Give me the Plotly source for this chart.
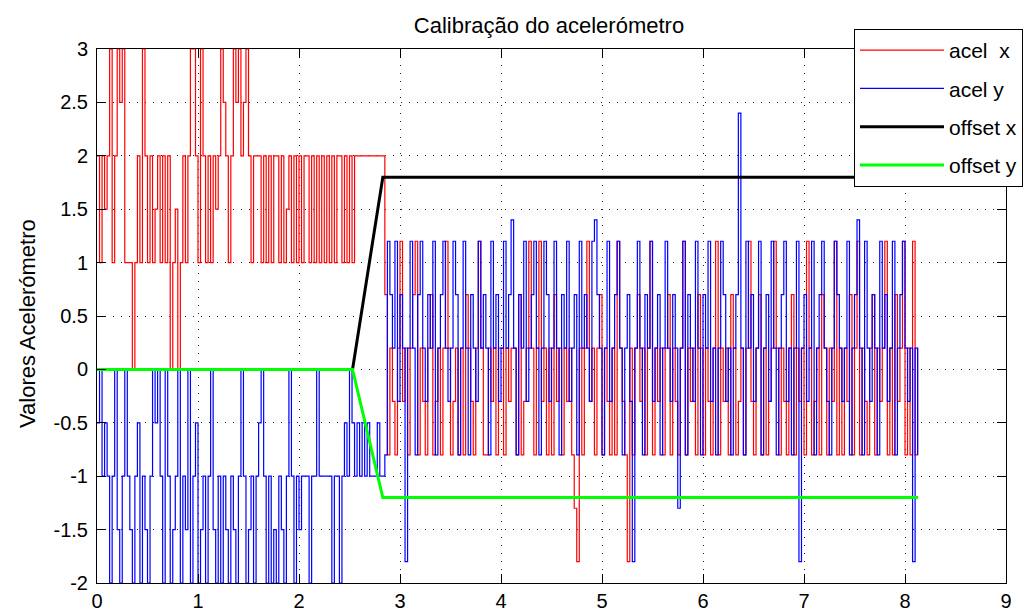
import plotly.graph_objects as go

# ---------------- data ----------------
t_start = 0.0
t_step = 0.025

acel_x_pre = [
    2, 1, 2, 1.5, 2, 3, 1, 2, 3, 2.5, 3,
    1, 1, 1,
    0,
    1, 2, 1,
    3,
    2, 1, 2, 1, 1.5, 2, 1, 2, 1, 2,
    0,
    1, 1.5,
    0,
    1, 2, 1, 2,
    3, 3,
    2, 1,
    3,
    2, 1, 2, 1, 2, 1.5, 2,
    3,
    2.5, 2, 1, 2,
    3, 2.5, 3, 2, 2.5, 3, 2,
    1, 2, 2, 2,
    1, 2, 1, 2, 1, 2, 2, 1, 2, 1, 1.5, 2, 1, 2, 1, 2, 1, 2, 2, 1,
    2, 1, 2, 1, 2, 1, 2, 1, 2, 1, 2, 2, 1, 2, 1, 2, 1,
    2, 2, 2, 2, 2, 2, 2, 2, 2, 2, 2, 2,
]

acel_x_post = [
    0.7, -0.8, 0.2, -0.3, -0.8, 0.2, 1.2, -0.3, 0.2, -0.8,
    0.2, 0.7, 1.2, -0.8, 0.2, -0.3, -0.8, 0.2, 0.7, -0.8,
    -0.3, 0.2, -0.8, 0.2, 1.2, 0.2, -0.8, -0.3, 0.2, -0.8,
    0.2, -0.8, 0.7, 0.2, -0.3, -0.8, 0.2, 1.2, 0.2, -0.8,
    -0.8, 0.2, -0.3, 0.2, -0.8, 0.2, 0.2, -0.8, 0.2, -0.3,
    0.2, 0.2, -0.8, 0.7, -0.8, -0.3, 0.2, 1.2, 0.2, -0.8,
    0.2, 1.2, -0.3, 0.2, -0.8, 0.2, -0.8, 0.7, -0.3, 0.2,
    -0.8, 0.2, -0.3, 0.2, -0.8, -1.3, -1.8, 0.2, -0.8, 0.2,
    1.2, -0.3, 0.2, -0.8, 0.2, 0.7, -0.8, 0.2, -0.3, -0.8,
    0.2, -0.8, 1.2, 0.2, -0.3, -0.8, -1.8, 0.2, -0.8, 0.2,
    0.7, -0.3, 0.2, -0.8, 0.2, 1.2, -0.8, 0.2, -0.3, 0.2,
    -0.8, 0.2, 0.7, -0.8, 0.2, -0.3, -0.8, 0.2, 1.2, -0.8,
    0.2, -0.3, 0.2, -0.8, 0.7, 0.2, -0.8, 0.2, -0.3, -0.8,
    0.2, 1.2, -0.8, 0.2, -0.3, 0.2, -0.8, 0.7, 0.2, -0.8,
    -0.3, 0.2, -0.8, 0.2, 1.2, -0.3, -0.8, 0.2, 0.7, -0.8,
    0.2, -0.8, -0.3, 0.2, 1.2, 0.2, -0.8, 0.2, -0.3, -0.8,
    0.2, 0.7, -0.8, 0.2, -0.3, 0.2, -0.8, 1.2, 0.2, -0.8,
    -0.3, 0.2, -0.8, 0.7, 0.2, -0.8, 0.2, -0.3, 1.2, -0.8,
    0.2, -0.8, 0.2, -0.3, 0.7, -0.8, 0.2, 1.2, -0.8, 0.2,
    -0.3, -0.8, 0.2, 0.7, -0.8, 0.2, -0.3, 0.2, 1.2, -0.8,
    0.2, -0.8, 0.7, -0.3, 0.2, 1.2, -0.8, 0.2, -0.8, 1.2,
    -0.8, 0.2,
]

acel_y_pre = [
    -0.5, 0, -1, -0.5, -1, -2, -1, 0, -1.5, -2, -1,
    0, -1, -1.5, -2, -1, -0.5, -2, -1, -1.5, -2,
    -1, 0, -0.5, 0, -1, -2, 0, -1, -2, -1.5,
    -1, 0, -2, -1, -1.5, 0, -2, -1, -0.5, -2,
    -1.5, -1, -2, -1, 0, -1.5, -2, -1, -2, -1,
    -1.5, -2, -1, -1.5, -2, -1, 0, -1, -2, -1.5,
    -1, -2, -1, -0.5, 0, -1, -2, -1, -2, -1.5,
    -2, -1, -1.5, -2, -1, 0, -1, -2, -1, -1.5,
    -1, -1, -1, -2, -1, -1, 0, -1, -1, -1,
    -1, -1, -2, -1, -1, -2, -1, -0.5, -1, 0, -0.5,
    -1, -0.5, -1, -0.5, -1, -0.5, -1, -1, -1, -0.5, -1, -1,
]

acel_y_post = [
    -0.8, 1.2, 0.7, 0.2, 1.2, -0.3, 0.7, 0.2, -1.8, 0.2,
    1.2, 0.2, -0.8, 0.7, 1.2, 0.2, -0.3, 0.7, 0.2, 1.2,
    -0.8, 0.2, 0.7, 1.2, 0.2, -0.3, 0.2, 1.2, 0.7, -0.8,
    0.2, 1.2, 0.2, -0.8, 0.7, 0.2, -0.3, 1.2, 0.2, 0.7,
    0.2, -0.8, 1.2, 0.2, 0.7, -0.3, 0.2, 1.2, 0.2, 0.7,
    1.4, 0.2, -0.8, 0.7, 0.2, 1.2, -0.3, 0.2, 0.7, 1.2,
    0.2, -0.8, 0.2, 1.2, 0.7, -0.3, 0.2, 1.2, 0.2, -0.8,
    0.7, 0.2, 1.2, -0.3, 0.2, 0.7, -0.8, 1.2, 0.2, 0.7,
    0.2, -0.3, 1.2, 1.4, 0.7, 0.2, -0.8, 0.2, 1.2, -0.3,
    0.2, 0.7, 1.2, 0.2, -0.8, 0.2, 0.7, -0.3, -1.8, 0.2,
    1.2, 0.2, -0.8, 0.7, 0.2, 1.2, -0.3, 0.2, 0.7, -0.8,
    0.2, 1.2, 0.2, -0.3, 0.7, 0.2, -1.3, 0.2, 1.2, -0.8,
    0.7, 0.2, -0.3, 1.2, 0.2, -0.8, 0.7, 0.2, 1.2, -0.3,
    0.2, -0.8, 0.2, 1.2, 0.7, -0.3, 0.2, -0.8, 0.2, 0.7,
    2.4, 0.2, -0.8, 1.2, 0.2, 0.7, -0.3, 0.2, 1.2, -0.8,
    0.2, 0.7, -0.3, 1.2, 0.2, -0.8, 0.2, 0.7, 1.2, -0.3,
    0.2, -0.8, 0.2, 1.2, -1.8, 0.2, 0.7, -0.3, 0.2, 1.2,
    -0.8, 0.2, 0.7, 1.2, 0.2, -0.3, -0.8, 0.2, 1.2, 0.7,
    0.2, -0.3, 0.2, 1.2, -0.8, 0.2, 0.7, 1.4, 0.2, -0.8,
    1.2, 0.2, -0.3, 0.7, 0.2, -0.8, 1.2, 0.2, 0.7, -0.3,
    0.2, 1.2, -0.8, 0.2, 0.7, 1.2, 0.2, -0.3, 0.2, -1.8,
    0.2, -0.8,
]

offset_t = [0, 2.53, 2.83, 8.13]
offset_x = [0, 0, 1.8, 1.8]
offset_y = [0, 0, -1.2, -1.2]

x_tickvals = [0, 1, 2, 3, 4, 5, 6, 7, 8, 9]
x_ticktext = ["0", "1", "2", "3", "4", "5", "6", "7", "8", "9"]
y_tickvals = [-2, -1.5, -1, -0.5, 0, 0.5, 1, 1.5, 2, 2.5, 3]
y_ticktext = ["-2", "-1.5", "-1", "-0.5", "0", "0.5", "1", "1.5", "2", "2.5", "3"]

title_text = "Calibração do acelerómetro"
ylabel_text = "Valores Acelerómetro"
names = ["acel\u00a0 x", "acel y", "offset x", "offset y"]

# ---------------- figure ----------------
W, H = 1025, 614
ML, MR, MT, MB = 97, 19, 49, 31
PW, PH = W - ML - MR, H - MT - MB

fig = go.Figure()
fig.add_trace(go.Scatter(
    y=acel_x_pre + acel_x_post, x0=t_start, dx=t_step, mode="lines",
    line=dict(color="#ff0000", width=1.2, shape="hv"), name=names[0], legendgroup="a"))
fig.add_trace(go.Scatter(
    y=acel_y_pre + acel_y_post, x0=t_start, dx=t_step, mode="lines",
    line=dict(color="#0000ff", width=1.2, shape="hv"), name=names[1], legendgroup="b"))
fig.add_trace(go.Scatter(
    x=offset_t, y=offset_x, mode="lines",
    line=dict(color="#000000", width=3), name=names[2], legendgroup="c"))
fig.add_trace(go.Scatter(
    x=offset_t, y=offset_y, mode="lines",
    line=dict(color="#00ff00", width=3), name=names[3], legendgroup="d"))

tick_font = dict(family="Liberation Sans Narrow, Liberation Sans, Arial", size=20, color="#000")
grid_dash = "1px,7px"

fig.update_layout(
    width=W, height=H, autosize=False,
    margin=dict(l=ML, r=MR, t=MT, b=MB, autoexpand=False),
    paper_bgcolor="white", plot_bgcolor="white",
    font=dict(family="Liberation Sans, Arial", size=20, color="#000"),
    title=dict(text=title_text, x=549 / W, xanchor="center",
               y=1 - 25 / H, yanchor="middle", yref="container",
               font=dict(family="Liberation Sans, Arial", size=22, color="#000")),
    showlegend=True,
    legend=dict(x=(854 - ML) / PW, y=(H - MB - 29) / PH, xanchor="left", yanchor="top",
                bgcolor="white", bordercolor="black", borderwidth=1,
                font=dict(family="Liberation Sans, Arial", size=21, color="#000"),
                traceorder="grouped", tracegroupgap=8, itemwidth=84),
    xaxis=dict(range=[0, 9], tickvals=x_tickvals, ticktext=x_ticktext,
               showgrid=True, gridcolor="#222", gridwidth=1, griddash=grid_dash,
               zeroline=False, showline=True, linecolor="black", linewidth=1,
               mirror="ticks", ticks="inside", ticklen=9, tickcolor="black",
               tickfont=tick_font, ticklabelstandoff=0),
    yaxis=dict(range=[-2, 3], tickvals=y_tickvals, ticktext=y_ticktext,
               showgrid=True, gridcolor="#222", gridwidth=1, griddash=grid_dash,
               zeroline=False, showline=True, linecolor="black", linewidth=1,
               mirror="ticks", ticks="inside", ticklen=9, tickcolor="black",
               tickfont=tick_font, ticklabelstandoff=4),
    annotations=[dict(text=ylabel_text, textangle=-90, xref="paper", yref="paper",
                      x=(27 - ML) / PW, y=(H - MB - 324) / PH, xanchor="center", yanchor="middle",
                      showarrow=False,
                      font=dict(family="Liberation Sans, Arial", size=22, color="#000"))],
)

fig.write_html("out.html")
